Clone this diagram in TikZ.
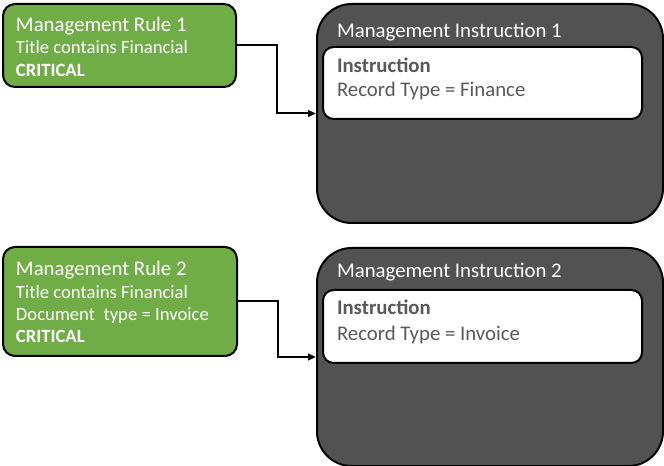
\documentclass[tikz,border=0pt]{standalone}
\usepackage{fontspec}
\setmainfont{Carlito}
\usetikzlibrary{arrows.meta}
\definecolor{rulegreen}{HTML}{70AD47}
\definecolor{instrgray}{HTML}{525252}
\definecolor{recgray}{HTML}{595959}
\tikzset{every picture/.style={line width=1.5pt}}
\tikzset{
  rulebox/.style={draw=black, fill=rulegreen, rounded corners=9pt, inner sep=0pt, anchor=north west},
  instrbox/.style={draw=black, fill=instrgray, rounded corners=26pt, inner sep=0pt, anchor=north west},
  recbox/.style={draw=black, fill=white, rounded corners=8pt, inner sep=0pt, anchor=north west},
  headtext/.style={anchor=base west, inner sep=0pt, text=white, font=\fontsize{15.6}{18}\selectfont},
  ruletext/.style={anchor=base west, inner sep=0pt, text=white, font=\fontsize{14}{16}\selectfont},
  rectext/.style={anchor=base west, inner sep=0pt, text=recgray, font=\fontsize{15.6}{18}\selectfont},
  link/.style={draw=black, -{Triangle[length=6pt,width=5pt]}}
}

\begin{document}
\begin{tikzpicture}[x=0.75pt,y=0.75pt,yscale=-1,xscale=1]
\useasboundingbox (0,0) rectangle (664,466);

%Shape: Rule 1
\node [rulebox, minimum width=174.75pt, minimum height=62.25pt] (rule1) at (2,3) {};
%Shape: Instruction 1
\node [instrbox, minimum width=259.5pt, minimum height=164.25pt] (instr1) at (316,3) {};
%Shape: Record 1
\node [recbox, minimum width=239.25pt, minimum height=54pt] (rec1) at (322,46) {};

%Shape: Rule 2
\node [rulebox, minimum width=175.5pt, minimum height=81.75pt] (rule2) at (2,246) {};
%Shape: Instruction 2
\node [instrbox, minimum width=259.5pt, minimum height=163.5pt] (instr2) at (316,247) {};
%Shape: Record 2
\node [recbox, minimum width=239.25pt, minimum height=54.75pt] (rec2) at (322,289) {};

%Connectors
\draw [link] (rule1.east) -- ++(40,0) coordinate (bend1) |- (instr1.west);
\draw [link] (rule2.east) -- ++(40,0) coordinate (bend2) |- (instr2.west);

% Text Node
\node [headtext] (rule1title) at (15,32) {Management Rule 1};
\node [ruletext] (rule1cond) at (15,54) {Title contains Financial};
\node [ruletext] (rule1crit) at (15,77) {\bfseries CRITICAL};
% Text Node
\node [headtext] (instr1title) at (336,38) {Management Instruction 1};
\node [rectext] (rec1title) at (336,73) {\bfseries Instruction};
\node [rectext] (rec1body) at (336,97) {Record Type = Finance};

% Text Node
\node [headtext] (rule2title) at (15,276) {Management Rule 2};
\node [ruletext] (rule2cond) at (15,299) {Title contains Financial};
\node [ruletext] (rule2doc) at (15,321) {Document\ \ type = Invoice};
\node [ruletext] (rule2crit) at (15,343) {\bfseries CRITICAL};
% Text Node
\node [headtext] (instr2title) at (336,278) {Management Instruction 2};
\node [rectext] (rec2title) at (336,315) {\bfseries Instruction};
\node [rectext] (rec2body) at (336,341) {Record Type = Invoice};

\end{tikzpicture}
\end{document}
